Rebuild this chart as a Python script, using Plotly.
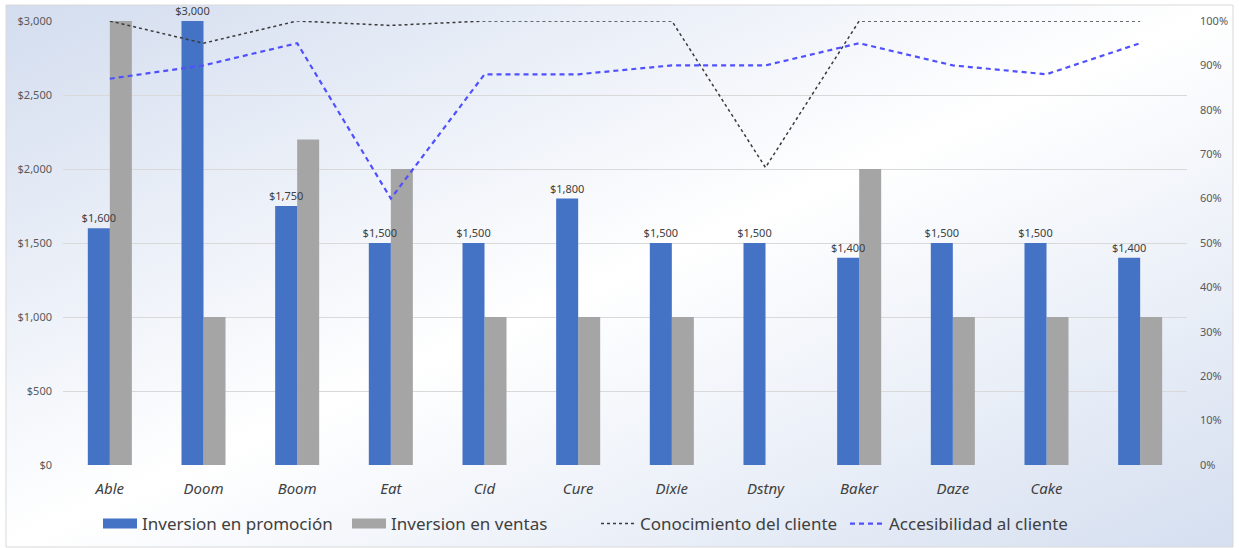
import base64
import plotly.graph_objects as go

categories = ["Able", "Doom", "Boom", "Eat", "Cid", "Cure", "Dixie", "Dstny", "Baker", "Daze", "Cake", " "]
promocion = [1600, 3000, 1750, 1500, 1500, 1800, 1500, 1500, 1400, 1500, 1500, 1400]
ventas = [3000, 1000, 2200, 2000, 1000, 1000, 1000, None, 2000, 1000, 1000, 1000]
conocimiento = [1.00, 0.95, 1.00, 0.99, 1.00, 1.00, 1.00, 0.67, 1.00, 1.00, 1.00, 1.00]
accesibilidad = [0.87, 0.90, 0.95, 0.60, 0.88, 0.88, 0.90, 0.90, 0.95, 0.90, 0.88, 0.95]
left_ticks = [0, 500, 1000, 1500, 2000, 2500, 3000]
left_labels = [f"${v:,}" for v in left_ticks]
right_ticks = [i / 10 for i in range(11)]

W, H = 1239, 548
L, R, T, B = 63, 52, 21, 83
pw, ph = W - L - R, H - T - B

FONT = "Noto Sans"
BLUE = "#4472C4"
GRAY = "#A5A5A5"
BW = 0.235

svg = (
    '<svg xmlns="http://www.w3.org/2000/svg" width="1239" height="548" preserveAspectRatio="none">'
    '<defs><linearGradient id="g" x1="0" y1="0" x2="1" y2="1">'
    '<stop offset="0" stop-color="#d3ddef"/>'
    '<stop offset="0.5" stop-color="#ffffff"/>'
    '<stop offset="1" stop-color="#d5dff0"/>'
    '</linearGradient></defs>'
    '<rect x="0" y="0" width="1239" height="548" fill="url(#g)"/></svg>'
)
svg_uri = "data:image/svg+xml;base64," + base64.b64encode(svg.encode()).decode()

def px_x(p):
    return (p - L) / pw

def px_y(p):
    return (H - B - p) / ph

fig = go.Figure()
fig.add_trace(go.Bar(
    x=categories, y=ventas, name="Inversion en ventas",
    marker=dict(color=GRAY, line=dict(width=0)), showlegend=False, legendgroup="v",
    offset=0, width=BW,
))
fig.add_trace(go.Bar(
    x=categories, y=promocion, name="Inversion en promoción",
    marker=dict(color=BLUE, line=dict(width=0)), showlegend=False, legendgroup="p",
    offset=-BW, width=BW,
    text=[f"${v:,.0f}" for v in promocion], textposition="outside",
    constraintext="none",
    textfont=dict(size=11, color="#404040", family=FONT), cliponaxis=False,
))
fig.add_trace(go.Scatter(
    x=categories, y=conocimiento, name="Conocimiento del cliente", yaxis="y2",
    mode="lines", line=dict(color="#3a3a3a", width=1.5, dash="dot"), showlegend=False,
    legendgroup="c",
))
fig.add_trace(go.Scatter(
    x=categories, y=accesibilidad, name="Accesibilidad al cliente", yaxis="y2",
    mode="lines", line=dict(color="#5050ff", width=2.2, dash="5px,4px"), showlegend=False,
    legendgroup="a",
))
# legend entries
fig.add_trace(go.Scatter(x=[None], y=[None], mode="lines", name="Inversion en promoción",
                         line=dict(color=BLUE, width=11), legendgroup="p"))
fig.add_trace(go.Scatter(x=[None], y=[None], mode="lines", name="Inversion en ventas",
                         line=dict(color=GRAY, width=11), legendgroup="v"))
fig.add_trace(go.Scatter(x=[None], y=[None], mode="lines", name="Conocimiento del cliente",
                         line=dict(color="#3a3a3a", width=1.5, dash="dot"), legendgroup="c"))
fig.add_trace(go.Scatter(x=[None], y=[None], mode="lines", name="Accesibilidad al cliente",
                         line=dict(color="#5050ff", width=2.2, dash="5px,4px"), legendgroup="a"))

fig.update_layout(
    width=W, height=H,
    margin=dict(l=L, r=R, t=T, b=B, autoexpand=False),
    paper_bgcolor="white", plot_bgcolor="rgba(0,0,0,0)",
    font=dict(family=FONT, color="#404040"),
    barmode="overlay",
    showlegend=True,
    legend=dict(orientation="h", x=px_x(98), xanchor="left", y=px_y(524), yanchor="middle",
                font=dict(size=17, color="#404040", family=FONT),
                bgcolor="rgba(0,0,0,0)", itemwidth=34, traceorder="normal",
                entrywidth=200, entrywidthmode="pixels"),
    xaxis=dict(showgrid=False, showline=False, ticks="", ticklabelstandoff=13,
               tickfont=dict(size=15, color="#404040", family=FONT, style="italic")),
    yaxis=dict(range=[0, 3000], tickvals=left_ticks, ticktext=left_labels,
               showgrid=True, gridcolor="#d9d9d9", gridwidth=1, zeroline=False,
               showline=False, ticklabelstandoff=10,
               tickfont=dict(size=11, color="#595959", family=FONT)),
    yaxis2=dict(range=[0, 1], tickvals=right_ticks, tickformat=".0%", overlaying="y",
                side="right", showgrid=False, zeroline=False, showline=False,
                ticklabelstandoff=12,
                tickfont=dict(size=11, color="#595959", family=FONT)),
    images=[dict(source=svg_uri, xref="paper", yref="paper",
                 x=px_x(6), y=px_y(5), sizex=(1233 - 6) / pw, sizey=(547 - 5) / ph,
                 xanchor="left", yanchor="top", sizing="stretch", layer="below")],
    shapes=[dict(type="rect", xref="paper", yref="paper",
                 x0=px_x(6), x1=px_x(1233), y0=px_y(547), y1=px_y(5),
                 line=dict(color="#d9d9d9", width=1), fillcolor="rgba(0,0,0,0)", layer="below")],
)

fig.write_html("out.html", config={"displayModeBar": False},
               post_script="document.body.style.margin='0px';")
